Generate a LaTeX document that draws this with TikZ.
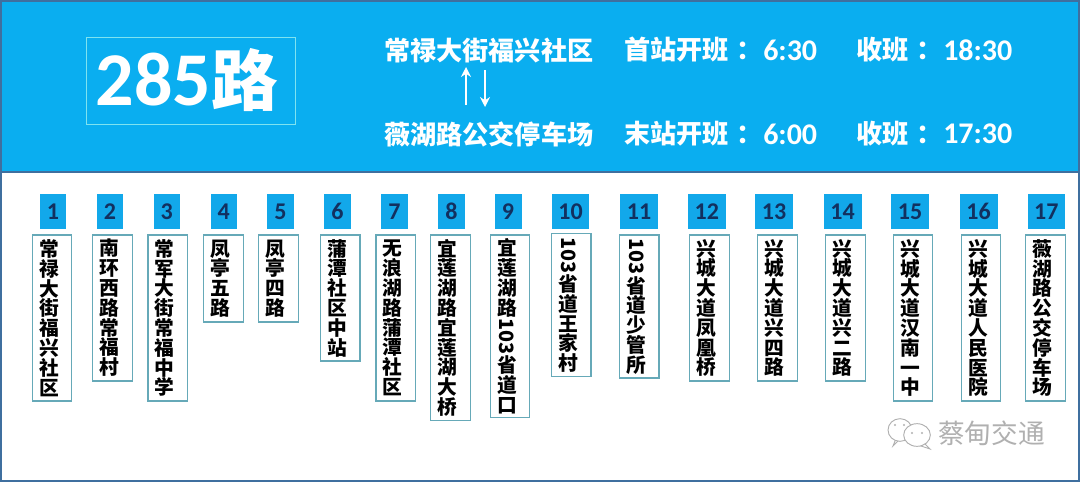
\documentclass[tikz,border=0pt]{standalone}
\usepackage{fontspec}
\setmainfont{Noto Sans CJK SC}
\newfontfamily\latinfont{Carlito}
\usepackage{xcolor}
\usetikzlibrary{math,arrows.meta,shapes.geometric}
\definecolor{skyfill}{HTML}{0AAEF0}
\definecolor{badgefill}{HTML}{12A8EA}
\definecolor{navytext}{HTML}{12305F}
\definecolor{frameblue}{HTML}{3F6F9F}
\definecolor{boxline}{HTML}{66A9B8}
\definecolor{titleline}{HTML}{7FE3F0}
\definecolor{markgray}{HTML}{B0B0B0}
\tikzset{
	badge/.style={fill=badgefill,text=navytext,inner sep=0pt,minimum height=26.25pt,font=\latinfont\bfseries\fontsize{18}{18}\selectfont},
	stopbox/.style={draw=boxline,line width=0.9pt,fill=white,inner sep=0pt,minimum width=29.6pt},
	stoptext/.style={inner sep=0pt,align=center,font=\bfseries\fontsize{14.8}{14.85}\selectfont},
	headtext/.style={inner sep=0pt,anchor=west,text=white,font=\bfseries\fontsize{19.6}{19.6}\selectfont},
	timetext/.style={inner sep=0pt,anchor=west,text=white,font=\latinfont\bfseries\fontsize{22.5}{22.5}\selectfont},
	marktext/.style={inner sep=0pt,anchor=west,text=markgray,font=\fontsize{20}{20}\selectfont},
	bubble/.style={draw=markgray,line width=0.7pt,fill=white},
	updown/.style={draw=white,line width=1.5pt,-{Stealth[length=7.5pt,width=7.5pt]}},
}
\newcommand{\turned}{\rotatebox[origin=c]{-90}{103}}
\begin{document}
\begin{tikzpicture}[x=0.75pt,y=-0.75pt]
\useasboundingbox (0,0) rectangle (1080,482);
\fill[white] (0,0) rectangle (1080,482);
\tikzmath{
	\headbot = 172;\boxtop = 235;\rowa = 50;\rowb = 134;
}
% panels
\draw[frameblue,line width=1.5pt] (1,\headbot) rectangle (1079,481);
\draw[frameblue,fill=skyfill,line width=1.5pt] (1,1) rectangle (1079,\headbot);
% title
\node[draw=titleline,line width=0.8pt,minimum width=157pt,minimum height=65pt,inner sep=0pt,anchor=north west] (title) at (85.5,37) {};
\path (title.west) ++(10,-1) node[inner sep=0pt,anchor=west,text=white] (num) {\latinfont\bfseries\fontsize{57}{57}\selectfont 285\normalfont\bfseries\fontsize{50}{50}\selectfont 路};
% route ends
\node[headtext] (enda) at (384,\rowa) {常禄大街福兴社区};
\node[headtext] (endb) at (384,\rowb) {薇湖路公交停车场};
\coordinate (upa) at (466,105);
\coordinate (upb) at (466,67);
\coordinate (downa) at (485,70);
\coordinate (downb) at (485,107);
\draw[updown] (upa) -- (upb);
\draw[updown] (downa) -- (downb);
% times
\foreach \r/\first/\ta/\tb in {\rowa/首站开班/6:30/18:30,\rowb/末站开班/6:00/17:30}{
	\node[headtext] (lab\ta) at (624,\r) {\first\kern0.3em：};
	\node[timetext] (val\ta) at (763,\r) {\ta};
	\node[headtext] (end\ta) at (856,\r) {收班\kern0.3em：};
	\node[timetext] (val\tb) at (943,\r) {\tb};
}
% stops
\foreach \i/\xa/\xb/\xc/\xd/\ya/\yb/\txt in {
	1/40/66/32/72/235/401/{常\\禄\\大\\街\\福\\兴\\社\\区},
	2/97/123/92.5/132.5/235/381/{南\\环\\西\\路\\常\\福\\村},
	3/153.5/180/148/187.5/235/401/{常\\军\\大\\街\\常\\福\\中\\学},
	4/210.5/237/203.5/243.5/235/322/{凤\\亭\\五\\路},
	5/267/294/258.5/298.5/235/322/{凤\\亭\\四\\路},
	6/324/351/320.5/360/235/361/{蒲\\潭\\社\\区\\中\\站},
	7/381/408/376/415.5/235/401/{无\\浪\\湖\\路\\蒲\\潭\\社\\区},
	8/438/465/430.5/470.5/235/420.5/{宜\\莲\\湖\\路\\宜\\莲\\湖\\大\\桥},
	9/494.5/521.5/490/530/235/417.5/{宜\\莲\\湖\\路\\\turned\\省\\道\\口},
	10/552/589/551.5/591/233.5/376.5/{\turned\\省\\道\\王\\家\\村},
	11/620/658/619.5/659/235/378/{\turned\\省\\道\\少\\管\\所},
	12/688/725.5/689.5/729.5/235/381/{兴\\城\\大\\道\\凤\\凰\\桥},
	13/755/793/757.5/797.5/235/381/{兴\\城\\大\\道\\兴\\四\\路},
	14/823.5/861.5/825.5/865.5/235/381/{兴\\城\\大\\道\\兴\\二\\路},
	15/891/929/893/933/235/401/{兴\\城\\大\\道\\汉\\南\\一\\中},
	16/959.5/997.5/961/1001/235/401/{兴\\城\\大\\道\\人\\民\\医\\院},
	17/1027.5/1065/1025.5/1065.5/235/401/{薇\\湖\\路\\公\\交\\停\\车\\场}%
}{
	\node[badge,minimum width={(\xb-\xa)*0.75pt}] (n\i) at ({(\xa+\xb)/2},211.5) {\i};
	\node[stopbox,minimum height={(\yb-\ya)*0.75pt}] (s\i) at ({(\xc+\xd)/2},{(\ya+\yb)/2}) {};
	\path (s\i.center) ++(-3,0) node[stoptext] (t\i) {\txt};
}
% watermark
\draw[bubble] (898,441) -- (893,446) -- (896,438.5);
\node[bubble,ellipse,minimum width=18pt,minimum height=17pt,inner sep=0pt] (bubl) at (900,430) {};
\draw[bubble] (924,443) -- (930,449) -- (918,445);
\node[bubble,ellipse,minimum width=20pt,minimum height=17pt,inner sep=0pt] (bubr) at (917,435) {};
\fill[markgray] (895,425) circle (1.2) (904,425) circle (1.2) (912,433) circle (1.2) (922,433) circle (1.2);
\node[marktext] (mark) at (938,433) {蔡甸交通};
\end{tikzpicture}
\end{document}
